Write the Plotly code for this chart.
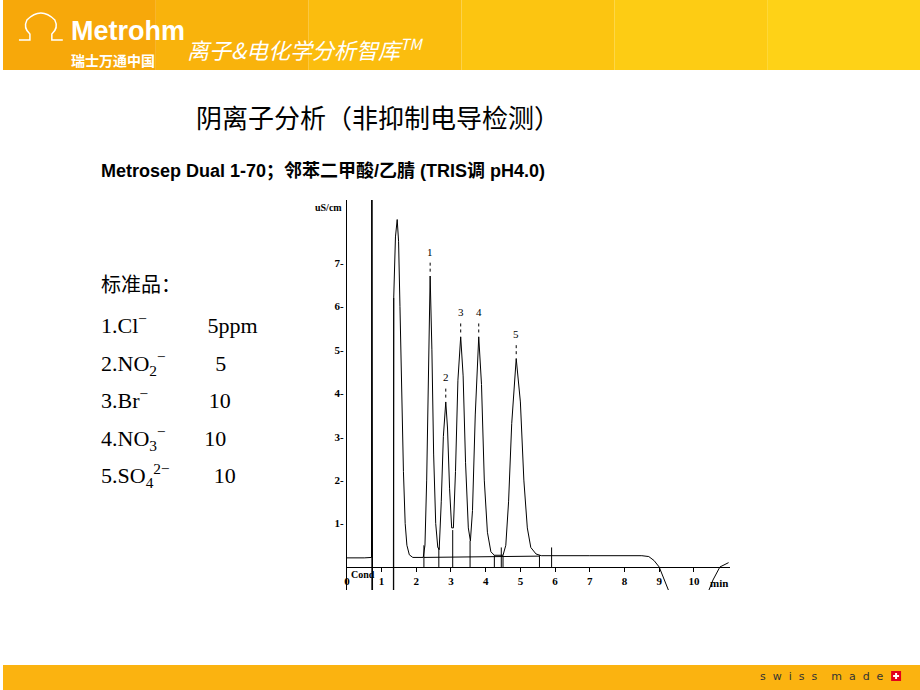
import plotly.graph_objects as go

# chromatogram (min, uS/cm); None breaks the line
time = [0, 0.3, 0.5, 0.71, 0.72, 0.74, 1.34, 1.35, 1.40, 1.45, 1.49, 1.53, 1.58, 1.63, 1.68, 1.73, 1.8, 1.9, 2.2,
        2.25, 2.3, 2.35, 2.4, 2.45, 2.5, 2.56, 2.62, 2.66, 2.72, 2.78, 2.85, 2.9, 2.96, 3.02, 3.07, 3.13, 3.2, 3.28,
        3.35, 3.42, 3.5, 3.56, 3.62, 3.7, 3.8, 3.88, 3.96, 4.05, 4.15, 4.25, 4.5, 4.58, 4.66, 4.75, 4.88, 5.0, 5.1,
        5.2, 5.3, 5.45, 5.6, 7.0, 8.5, 8.7, 8.85, 9.0, 9.15, 9.3, None, 10.4, 10.55, 10.75, 11.0]
signal = [0.21, 0.2, 0.21, 0.22, 8.6, -0.6, -0.6, 6.2, 7.6, 8.0, 7.5, 6.0, 4.0, 2.2, 1.0, 0.5, 0.28, 0.22, 0.22,
          0.5, 2.0, 4.5, 6.7, 5.0, 2.6, 1.0, 0.45, 0.4, 1.5, 3.0, 3.8, 3.2, 1.8, 0.9, 0.9, 2.2, 4.3, 5.3,
          4.4, 2.4, 0.9, 0.6, 1.3, 3.5, 5.3, 4.2, 2.0, 0.8, 0.35, 0.27, 0.27, 0.5, 1.5, 3.3, 4.8, 3.8, 2.0,
          0.9, 0.45, 0.3, 0.26, 0.26, 0.26, 0.24, 0.15, 0.0, -0.3, -0.6, None, -0.6, -0.3, 0.0, 0.1]
peak_labels = ["1", "2", "3", "4", "5"]
peak_times = [2.4, 2.85, 3.28, 3.8, 4.88]
peak_heights = [6.7, 3.8, 5.3, 5.3, 4.8]
marker_times = [2.22, 2.65, 3.05, 3.55, 4.25, 4.45, 4.5, 5.55, 5.9]
marker_tops = [0.5, 0.45, 0.85, 0.6, 0.27, 0.45, 0.27, 0.27, 0.45]
x_ticks = [0, 1, 2, 3, 4, 5, 6, 7, 8, 9, 10]
y_ticks = [1, 2, 3, 4, 5, 6, 7]
std_names = ["1.Cl<sup>−</sup>", "2.NO<sub>2</sub><sup>−</sup>", "3.Br<sup>−</sup>",
             "4.NO<sub>3</sub><sup>−</sup>", "5.SO<sub>4</sub><sup>2−</sup>"]
std_amounts = ["5ppm", "5", "10", "10", "10"]
std_gaps = [11, 9, 11, 7, 8]

XR = [0, 11.03]
YR = [-0.53, 8.45]
Y0 = 1 - 590 / 690
Y1 = 1 - 200 / 690

fig = go.Figure()
fig.add_trace(go.Scatter(x=time, y=signal, mode="lines", line=dict(color="black", width=1),
                         hoverinfo="skip", showlegend=False))

tf = dict(family="Liberation Serif", size=11, color="black", weight="bold")
pos0 = Y0 + (0 - YR[0]) / (YR[1] - YR[0]) * (Y1 - Y0)
fig.update_layout(
    width=920, height=690, margin=dict(l=0, r=0, t=0, b=0),
    paper_bgcolor="white", plot_bgcolor="white",
    xaxis=dict(domain=[345 / 920, 729 / 920], range=XR, tickvals=x_ticks, showgrid=False, zeroline=False,
               anchor="free", position=pos0, showline=True, linecolor="black", linewidth=1,
               ticks="outside", ticklen=4, tickcolor="black", tickfont=tf),
    yaxis=dict(domain=[Y0, Y1], range=YR, tickvals=y_ticks, ticktext=[f"{v}-" for v in y_ticks],
               showgrid=False, zeroline=False, showline=True, linecolor="black", linewidth=1,
               ticks="", tickfont=tf),
)

def py(p):
    return 1 - p / 690

shapes = []
cols = ["#f7a80a", "#f9b30c", "#fbbd0e", "#fcc511", "#fdcc14", "#fed217"]
for i, c in enumerate(cols):
    shapes.append(dict(type="rect", xref="paper", yref="paper", x0=i / 6, x1=(i + 1) / 6,
                       y0=py(70), y1=1, fillcolor=c, line=dict(width=0), layer="below"))
shapes.append(dict(type="rect", xref="paper", yref="paper", x0=0, x1=1,
                   y0=0, y1=25 / 690, fillcolor="#fbb310", line=dict(width=0), layer="below"))
shapes.append(dict(type="rect", xref="paper", yref="paper", x0=891 / 920, x1=901 / 920,
                   y0=py(681), y1=py(671), fillcolor="#e3001b", line=dict(width=0)))
shapes.append(dict(type="rect", xref="paper", yref="paper", x0=893 / 920, x1=899 / 920,
                   y0=py(677), y1=py(675), fillcolor="white", line=dict(width=0)))
shapes.append(dict(type="rect", xref="paper", yref="paper", x0=895 / 920, x1=897 / 920,
                   y0=py(679), y1=py(673), fillcolor="white", line=dict(width=0)))
shapes.append(dict(type="path", xref="paper", yref="paper",
                   path=f"M {16/920},{py(40)} L {27/920},{py(40)} L {27/920},{py(34)} "
                        f"Q {20/920},{py(28)} {24/920},{py(20)} Q {38/920},{py(6)} {52/920},{py(20)} "
                        f"Q {56/920},{py(28)} {49/920},{py(34)} L {49/920},{py(40)} L {60/920},{py(40)}",
                   line=dict(color="white", width=1.5)))
shapes.append(dict(type="line", xref="x", yref="paper", x0=0.72, x1=0.72, y0=Y0, y1=Y1,
                   line=dict(color="black", width=1)))
shapes.append(dict(type="line", xref="x", yref="y", x0=1.35, x1=1.35, y0=YR[0], y1=6.2,
                   line=dict(color="black", width=1)))
shapes.append(dict(type="line", xref="x", yref="y", x0=2.22, x1=5.55, y0=0.22, y1=0.25,
                   line=dict(color="black", width=1)))
for t, h in zip(marker_times, marker_tops):
    shapes.append(dict(type="line", xref="x", yref="y", x0=t, x1=t, y0=0.0, y1=h,
                       line=dict(color="black", width=1)))
for t, h in zip(peak_times, peak_heights):
    shapes.append(dict(type="line", xref="x", yref="y", x0=t, x1=t, y0=h + 0.1, y1=h + 0.35,
                       line=dict(color="black", width=1, dash="dot")))
fig.update_layout(shapes=shapes)

ann = []
for lab, t, h in zip(peak_labels, peak_times, peak_heights):
    ann.append(dict(x=t, y=h + 0.38, xref="x", yref="y", text=lab, showarrow=False, yanchor="bottom",
                    font=dict(family="Liberation Serif", size=11, color="black")))
ann += [
    dict(x=0, y=YR[1], xref="x", yref="y", text="<b>uS/cm</b>", showarrow=False, xanchor="right",
         yanchor="top", xshift=-3, font=dict(family="Liberation Serif", size=10, color="black")),
    dict(x=0, y=0, xref="x", yref="y", text="<b>Cond</b>", showarrow=False, xanchor="left",
         yanchor="top", xshift=2, font=dict(family="Liberation Serif", size=10, color="black")),
    dict(x=XR[1], y=0, xref="x", yref="y", text="<b>min</b>", showarrow=False, xanchor="right",
         yanchor="top", yshift=-8, font=dict(family="Liberation Serif", size=11, color="black")),
    dict(x=376 / 920, y=py(96), xref="paper", yref="paper", text="阴离子分析（非抑制电导检测）",
         showarrow=False, font=dict(family="Noto Sans CJK SC", size=26, color="black")),
    dict(x=96 / 920, y=py(158), xref="paper", yref="paper", xanchor="left",
         text="<b>Metrosep Dual 1-70；邻苯二甲酸/乙腈 (TRIS调 pH4.0)</b>",
         showarrow=False, font=dict(family="Liberation Sans, Noto Sans CJK SC", size=18, color="black")),
    dict(x=66 / 920, y=py(14), xref="paper", yref="paper", xanchor="left",
         text="<b>Metrohm</b>", showarrow=False,
         font=dict(family="Liberation Sans", size=27, color="white")),
    dict(x=66 / 920, y=py(48), xref="paper", yref="paper", xanchor="left",
         text="<b>瑞士万通中国</b>", showarrow=False,
         font=dict(family="Noto Sans CJK SC", size=14, color="white")),
    dict(x=183 / 920, y=py(30), xref="paper", yref="paper", xanchor="left",
         text="<i>离子&电化学分析智库<sup>TM</sup></i>", showarrow=False,
         font=dict(family="Noto Sans CJK SC", size=22, color="white")),
    dict(x=886 / 920, y=py(685), xref="paper", yref="paper", xanchor="right",
         text="s  w  i  s  s    m  a  d  e", showarrow=False,
         font=dict(family="DejaVu Sans", size=11, color="#333333")),
    dict(x=96 / 920, y=py(284), xref="paper", yref="paper", xanchor="left",
         text="标准品：", showarrow=False, font=dict(family="Noto Sans CJK SC", size=20, color="black")),
]
sf = dict(family="Liberation Serif", size=22, color="black")
for i, (n, a, g) in enumerate(zip(std_names, std_amounts, std_gaps)):
    ann.append(dict(x=96 / 920, y=py(308 + i * 37.5), xref="paper", yref="paper", xanchor="left",
                    yanchor="top", text=n + "&nbsp;" * g + a, showarrow=False, font=sf))
fig.update_layout(annotations=ann)

fig.write_html("out.html", config={"displayModeBar": False},
               post_script="document.body.style.margin='0';")
